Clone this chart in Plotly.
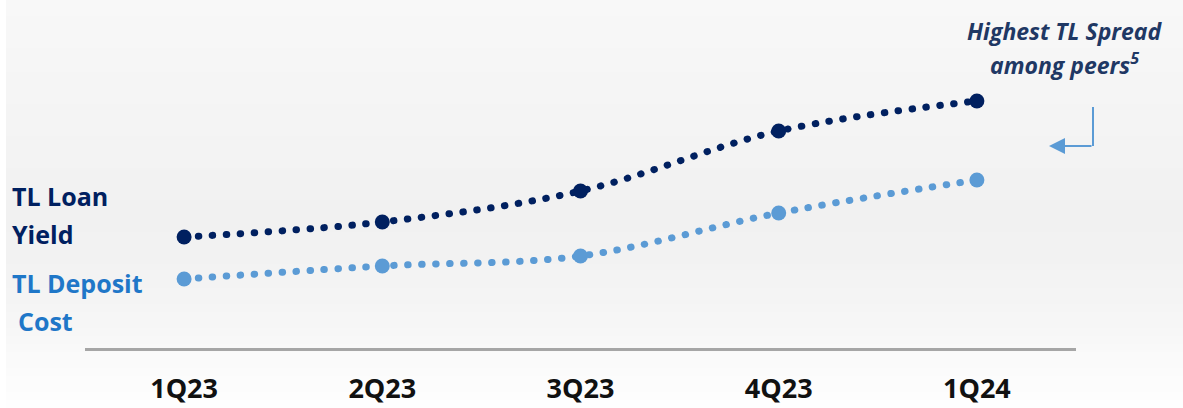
import plotly.graph_objects as go

# Quarterly series
quarters = ["1Q23", "2Q23", "3Q23", "4Q23", "1Q24"]
tl_loan_yield = [11.1, 12.6, 15.7, 21.7, 24.7]
tl_deposit_cost = [6.9, 8.2, 9.2, 13.5, 16.8]

W, H = 1183, 408
ML, MR, MT, MB = 85, 107, 0, 60
PW, PH = W - ML - MR, H - MT - MB

NAVY = "#002060"
LIGHT = "#5b9bd5"


def px_x(px):
    return (px - ML) / PW


def px_y(py):
    return (H - MB - py) / PH


fig = go.Figure()

dot_line = "0.5px,13.5px"
fig.add_trace(go.Scatter(
    x=quarters, y=tl_loan_yield, mode="lines+markers", name="TL Loan Yield",
    line=dict(color=NAVY, width=7, dash=dot_line, shape="spline", smoothing=1.0),
    marker=dict(color=NAVY, size=15), hoverinfo="skip",
))
fig.add_trace(go.Scatter(
    x=quarters, y=tl_deposit_cost, mode="lines+markers", name="TL Deposit Cost",
    line=dict(color=LIGHT, width=7, dash=dot_line, shape="spline", smoothing=1.0),
    marker=dict(color=LIGHT, size=15), hoverinfo="skip",
))

# soft vertical background gradient made of thin bands
stops = [(0, 248), (120, 244), (220, 241), (300, 244), (360, 250), (408, 254)]


def shade(py):
    for (y0, c0), (y1, c1) in zip(stops, stops[1:]):
        if y0 <= py <= y1:
            return c0 + (c1 - c0) * (py - y0) / (y1 - y0)
    return stops[-1][1]


shapes = []
step = 8
for top in range(0, H, step):
    c = int(round(shade(top + step / 2)))
    shapes.append(dict(
        type="rect", xref="paper", yref="paper", layer="below",
        x0=px_x(6), x1=px_x(W), y0=px_y(top + step), y1=px_y(top),
        fillcolor=f"rgb({c},{c},{c})", line=dict(width=0),
    ))

# callout connector (vertical part)
shapes.append(dict(
    type="line", xref="paper", yref="paper",
    x0=px_x(1093), x1=px_x(1093), y0=px_y(107), y1=px_y(146),
    line=dict(color=LIGHT, width=2),
))

annotations = [
    dict(text="<b>TL Loan</b>", x=px_x(10), y=px_y(196), xref="paper", yref="paper",
         xanchor="left", yanchor="middle", showarrow=False,
         font=dict(family="Open Sans", size=25, color=NAVY)),
    dict(text="<b>Yield</b>", x=px_x(10), y=px_y(234), xref="paper", yref="paper",
         xanchor="left", yanchor="middle", showarrow=False,
         font=dict(family="Open Sans", size=25, color=NAVY)),
    dict(text="<b>TL Deposit</b>", x=px_x(10), y=px_y(283), xref="paper", yref="paper",
         xanchor="left", yanchor="middle", showarrow=False,
         font=dict(family="Open Sans", size=25, color="#1f77c8")),
    dict(text="<b>Cost</b>", x=px_x(16), y=px_y(321), xref="paper", yref="paper",
         xanchor="left", yanchor="middle", showarrow=False,
         font=dict(family="Open Sans", size=25, color="#1f77c8")),
    dict(text="<b><i>Highest TL Spread</i></b>", x=px_x(1065), y=px_y(31),
         xref="paper", yref="paper", xanchor="center", yanchor="middle", showarrow=False,
         font=dict(family="Open Sans", size=23, color="#1f3864")),
    dict(text="<b><i>among peers<sup>5</sup></i></b>", x=px_x(1064), y=px_y(64),
         xref="paper", yref="paper", xanchor="center", yanchor="middle", showarrow=False,
         font=dict(family="Open Sans", size=23, color="#1f3864")),
    # callout connector (horizontal part with arrowhead)
    dict(text="", x=px_x(1049), y=px_y(146), xref="paper", yref="paper",
         ax=44, ay=0, axref="pixel", ayref="pixel", showarrow=True,
         arrowhead=2, arrowsize=1.6, arrowwidth=2, arrowcolor=LIGHT, standoff=0),
]

fig.update_layout(
    width=W, height=H,
    margin=dict(l=ML, r=MR, t=MT, b=MB, autoexpand=False),
    paper_bgcolor="white", plot_bgcolor="rgba(0,0,0,0)",
    showlegend=False,
    shapes=shapes, annotations=annotations,
    xaxis=dict(
        range=[-0.5, 4.5], showgrid=False, zeroline=False, automargin=False,
        showline=True, linecolor="#a6a6a6", linewidth=3,
        ticks="", ticklabelstandoff=15,
        tickfont=dict(family="Open Sans", size=27, color="#111111", weight="bold"),
        fixedrange=True,
    ),
    yaxis=dict(range=[0, PH / 10], visible=False, fixedrange=True, automargin=False),
)

round_dots = (
    "var s=document.createElement('style');"
    "s.textContent='.js-line{stroke-linecap:round !important;}';"
    "document.head.appendChild(s);"
)
fig.write_html("out.html", post_script=round_dots, config={"displayModeBar": False})
